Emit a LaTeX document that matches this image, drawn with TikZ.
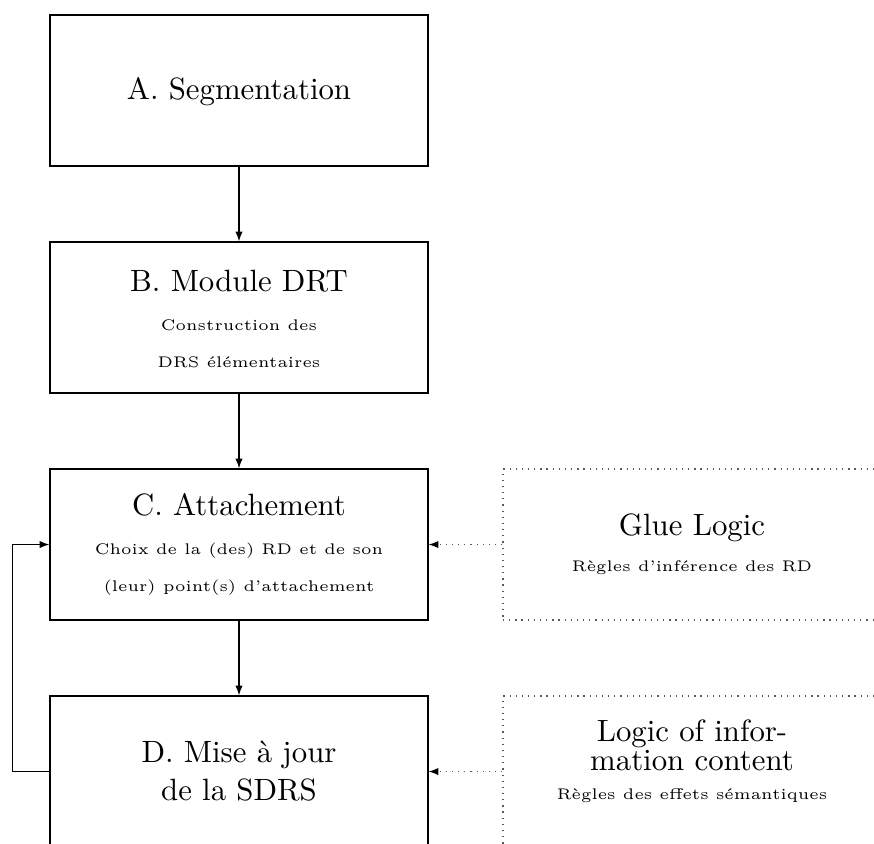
\documentclass[tikz,border=0pt]{standalone}
\usetikzlibrary{arrows.meta}
\begin{document}
\begin{tikzpicture}[x=0.3247pt,y=-0.3247pt,
  box/.style={draw,line width=0.4pt,minimum width=378*0.3247pt,minimum height=151*0.3247pt,inner sep=0pt},
  dbox/.style={draw,gray!70!black,line width=0.4pt,dash pattern=on 0.4pt off 1.6pt,minimum width=378*0.3247pt,minimum height=151*0.3247pt,inner sep=0pt},
  big/.style={anchor=base,inner sep=0pt,font=\normalsize},
  small/.style={anchor=base,inner sep=0pt,font=\tiny},
  arr/.style={line width=0.4pt,-{Latex[length=3.2pt,width=2.4pt]}},
  darr/.style={line width=0.4pt,gray!70!black,dash pattern=on 0.4pt off 1.6pt,-{Latex[length=3.2pt,width=2.4pt,color=black]}}]
\clip (0,0) rectangle (874,843);
\node[box] (A) at (239,90.5) {};
\node[box] (B) at (239,317.5) {};
\node[box] (C) at (239,544.5) {};
\node[box] (D) at (239,771.5) {};
\node[dbox] (G) at (692,544.5) {};
\node[dbox] (L) at (692,771.5) {};
\node[big] (ta) at (239,99) {A. Segmentation};
\node[big] (tb) at (239,291) {B. Module DRT};
\node[small] (tb1) at (239,330) {Construction des};
\node[small] (tb2) at (239,367.5) {DRS élémentaires};
\node[big] (tc) at (239,515) {C. Attachement};
\node[small] (tc1) at (239,554) {Choix de la (des) RD et de son};
\node[small] (tc2) at (239,591) {(leur) point(s) d'attachement};
\node[big] (td1) at (239,762.5) {D. Mise à jour};
\node[big] (td2) at (239,800.5) {de la SDRS};
\node[big] (tg) at (692,535) {Glue Logic};
\node[small] (tg1) at (692,571.5) {Règles d'inférence des RD};
\node[big] (tl1) at (692,741.5) {Logic of infor-};
\node[big] (tl2) at (692,770) {mation content};
\node[small] (tl3) at (692,799) {Règles des effets sémantiques};
\draw[arr] (A) -- (B);
\draw[arr] (B) -- (C);
\draw[arr] (C) -- (D);
\draw[arr] (D.west) -- ++(-37,0) |- (C.west);
\draw[darr] (G.west) -- (C.east);
\draw[darr] (L.west) -- (D.east);
\end{tikzpicture}
\end{document}
